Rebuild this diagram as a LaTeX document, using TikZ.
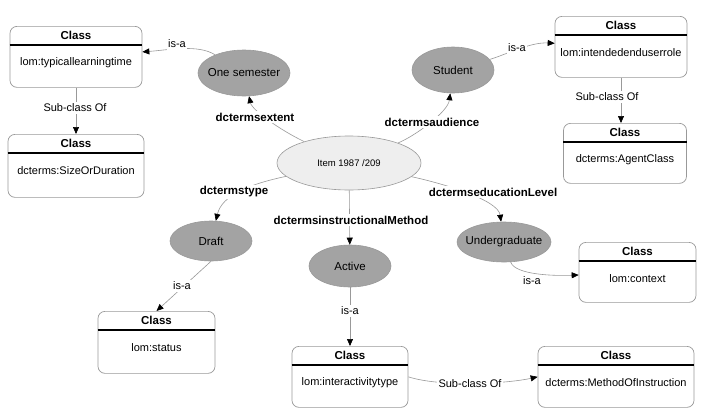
\documentclass[tikz,border=0pt]{standalone}
\usepackage{fontspec}
\setmainfont{Liberation Sans}
\usetikzlibrary{arrows.meta,shapes.geometric,calc}

\definecolor{lineg}{HTML}{999999}
\definecolor{hatch}{HTML}{A3A3A3}
\definecolor{itemfill}{HTML}{EEEEEE}

\tikzset{
  cbox/.style={rectangle, draw=lineg, line width=0.7pt, rounded corners=7pt, fill=white, inner sep=0pt},
  chead/.style={font=\fontsize{11.5}{13}\selectfont\bfseries, inner sep=0pt},
  ctext/.style={font=\fontsize{11}{13}\selectfont, inner sep=0pt},
  hline/.style={line width=1.6pt, draw=black},
  inst/.style={ellipse, draw=lineg, line width=0.6pt, fill=hatch, inner sep=0pt, font=\fontsize{11.5}{13}\selectfont},
  itemnode/.style={ellipse, draw=lineg, line width=0.6pt, fill=itemfill, inner sep=0pt, font=\fontsize{9.5}{11}\selectfont},
  conn/.style={draw=lineg, line width=0.6pt, -{Triangle[length=7pt,width=6pt,color=black,fill=black]}},
  plainlbl/.style={fill=white, inner sep=1.5pt, font=\fontsize{11}{13}\selectfont},
  proplbl/.style={fill=white, inner sep=1.5pt, font=\fontsize{11.5}{13}\selectfont\bfseries},
}

\newcommand\clsbox[6]{%
  \node[cbox, minimum width=#4pt, minimum height=#5pt, anchor=north] (#1) at (#2,#3) {};
  \node[chead] (#1h) at ($(#1.north)+(0,9.5)$) {Class};
  \draw[hline] ($(#1.north west)+(0,19)$) -- ($(#1.north east)+(0,19)$);
  \node[ctext] (#1t) at ($(#1.north)+(0,37)$) {#6};
}

\begin{document}
\begin{tikzpicture}[x=1pt,y=-1pt]
\useasboundingbox[fill=white] (0,0) rectangle (702,416);

% class boxes
\clsbox{b1}{76}{26}{132}{61}{lom:typicallearningtime}
\clsbox{b2}{76}{134}{136}{63}{dcterms:SizeOrDuration}
\clsbox{b3}{621}{16}{132}{61}{lom:intendedenduserrole}
\clsbox{b4}{625}{123}{123}{60}{dcterms:AgentClass}
\clsbox{status}{156.5}{311}{117}{62}{lom:status}
\clsbox{inter}{350}{346}{116}{61}{lom:interactivitytype}
\clsbox{context}{637.5}{242}{117}{60}{lom:context}
\clsbox{method}{616}{346}{156}{61}{dcterms:MethodOfInstruction}

% instances
\node[itemnode, minimum width=144pt, minimum height=54pt] (item) at (349,163) {\makebox[0pt]{Item 1987 /209}};
\node[inst, minimum width=92pt, minimum height=46pt] (onesem) at (244,73) {\makebox[0pt]{One semester}};
\node[inst, minimum width=82pt, minimum height=46pt] (student) at (453,70) {\makebox[0pt]{Student}};
\node[inst, minimum width=82pt, minimum height=40pt] (draft) at (211,241) {\makebox[0pt]{Draft}};
\node[inst, minimum width=82pt, minimum height=42pt] (active) at (350,266) {\makebox[0pt]{Active}};
\node[inst, minimum width=94pt, minimum height=40pt] (under) at (504,242) {\makebox[0pt]{Undergraduate}};

% connectors
\draw[conn] (item) .. controls (280,130) and (252,110) .. (onesem);
\draw[conn] (item) .. controls (415,136) and (448,112) .. (student);
\draw[conn] (onesem) .. controls (198,44) and (168,50) .. (b1);
\draw[conn] (b1) -- (b2);
\draw[conn] (student) .. controls (505,55) and (530,42) .. (b3);
\draw[conn] (b3.south) -- (b3.south |- b4.north);
\draw[conn] (item) .. controls (250,184) and (222,195) .. (draft);
\draw[conn] (item) -- (active);
\draw[conn] (item) .. controls (445,184) and (498,200) .. (under);
\draw[conn] (draft.south) -- (status.north);
\draw[conn] (active) -- (inter);
\draw[conn] (under) .. controls (515,275) and (555,276) .. (context);
\draw[conn] (inter.east) .. controls (440,387) and (505,384) .. (method.west);

% connector labels
\node[proplbl] (lext) at (255,117) {dctermsextent};
\node[proplbl] (laud) at (432,122) {dctermsaudience};
\node[proplbl] (ltype) at (234,192) {dctermstype};
\node[proplbl] (lmeth) at (351,220) {dctermsinstructionalMethod};
\node[proplbl] (ledu) at (493,192) {dctermseducationLevel};
\node[plainlbl] (l1) at (177,44) {is-a};
\node[plainlbl] (l2) at (75,108) {Sub-class Of};
\node[plainlbl] (l3) at (517,48) {is-a};
\node[plainlbl] (l4) at (607,97) {Sub-class Of};
\node[plainlbl] (l5) at (182,286) {is-a};
\node[plainlbl] (l6) at (350,311) {is-a};
\node[plainlbl] (l7) at (532,281) {is-a};
\node[plainlbl] (l8) at (470,384) {Sub-class Of};
\end{tikzpicture}
\end{document}
